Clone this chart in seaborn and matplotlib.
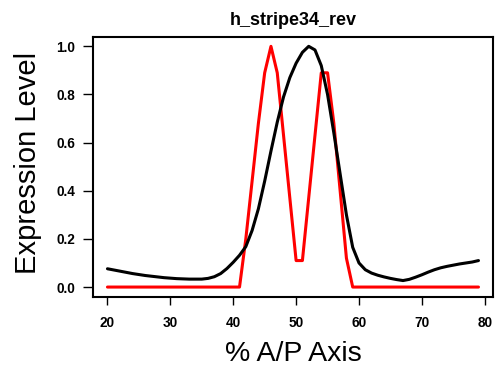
import matplotlib
matplotlib.use("Agg")
import matplotlib.pyplot as plt
import seaborn as sns
import pandas as pd
import numpy as np

positions = list(range(20, 80))

black_values = [
    0.076, 0.071, 0.066, 0.061, 0.056, 0.052, 0.048, 0.045, 0.042, 0.039,   # 20-29
    0.037, 0.035, 0.034, 0.033, 0.033, 0.033, 0.036, 0.043, 0.056, 0.077,   # 30-39
    0.103, 0.132, 0.168, 0.235, 0.325, 0.440, 0.565, 0.685, 0.790, 0.870,   # 40-49
    0.930, 0.975, 1.000, 0.985, 0.920, 0.800, 0.640, 0.470, 0.300, 0.165,   # 50-59
    0.100, 0.072, 0.058, 0.049, 0.042, 0.036, 0.031, 0.027, 0.032, 0.041,   # 60-69
    0.051, 0.062, 0.072, 0.080, 0.086, 0.091, 0.096, 0.100, 0.104, 0.110,   # 70-79
]

red_values = [
    0, 0, 0, 0, 0, 0, 0, 0, 0, 0,                                           # 20-29
    0, 0, 0, 0, 0, 0, 0, 0, 0, 0,                                           # 30-39
    0, 0, 0.20, 0.44, 0.68, 0.89, 1.00, 0.89, 0.63, 0.37,                   # 40-49
    0.11, 0.11, 0.37, 0.63, 0.89, 0.89, 0.68, 0.40, 0.12, 0,                # 50-59
    0, 0, 0, 0, 0, 0, 0, 0, 0, 0,                                           # 60-69
    0, 0, 0, 0, 0, 0, 0, 0, 0, 0,                                           # 70-79
]

title = "h_stripe34_rev"
x_label = "% A/P Axis"
y_label = "Expression Level"
x_ticks = [20, 30, 40, 50, 60, 70, 80]
y_ticks = [0.0, 0.2, 0.4, 0.6, 0.8, 1.0]

sns.set_style("ticks")
plt.rcParams['font.family'] = ['Liberation Sans', 'DejaVu Sans']
plt.rcParams['text.color'] = 'black'
plt.rcParams['axes.labelcolor'] = 'black'
plt.rcParams['xtick.color'] = 'black'
plt.rcParams['ytick.color'] = 'black'

df = pd.DataFrame({"pos": positions, "black": black_values, "red": red_values})

fig = plt.figure(figsize=(4.98, 3.73), dpi=100)
ax = fig.add_axes([0.186, 0.2046, 0.8046, 0.697])

sns.lineplot(data=df, x="pos", y="red", ax=ax, color="#ff0000", linewidth=2.2)
sns.lineplot(data=df, x="pos", y="black", ax=ax, color="black", linewidth=2.2)

ax.set_xlim(17.64, 81.36)
ax.set_ylim(-0.04, 1.04)
ax.set_xticks(x_ticks)
ax.set_yticks(y_ticks)
ax.set_xticklabels([str(t) for t in x_ticks], fontweight="bold", fontsize=9.8)
ax.set_yticklabels([f"{t:.1f}" for t in y_ticks], fontweight="bold", fontsize=9.8)

for s in ax.spines.values():
    s.set_visible(True)
    s.set_linewidth(1.5)
    s.set_color("black")

ax.tick_params(axis="both", direction="out", width=1.0, color="black",
               bottom=True, left=True, top=False, right=False)
ax.tick_params(axis="x", length=5.5, pad=8.5)
ax.tick_params(axis="y", length=7.5, pad=5)

ax.set_title(title, fontweight="bold", fontsize=13, pad=8.5)
ax.set_xlabel(x_label, fontsize=20.5, labelpad=7.5)
ax.set_ylabel(y_label, fontsize=21)
ax.yaxis.set_label_coords(-0.127, 0.514)

fig.savefig("out.png", dpi=100)
